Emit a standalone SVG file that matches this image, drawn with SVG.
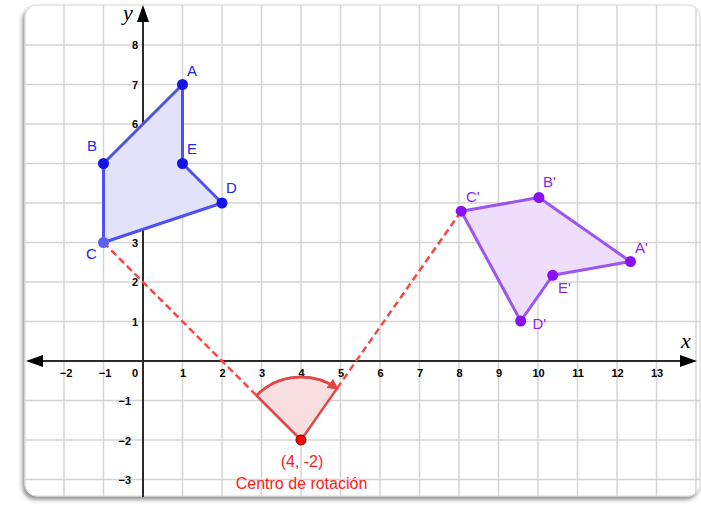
<svg xmlns="http://www.w3.org/2000/svg" width="701" height="521" viewBox="0 0 701 521">
<style>
.grid line{stroke:#d4d4d4;stroke-width:1.5}
.tick{font-family:"Liberation Sans",Arial,sans-serif;font-weight:bold;font-size:11px;fill:#000}
.ax{stroke:#2a2a2a;stroke-width:2}
.lbl{font-family:"Liberation Sans",Arial,sans-serif;font-size:15px}
.blue{fill:#2222ee}
.purple{fill:#8a1ff0}
.red{fill:#ff1a1a;font-size:16px}
.dash{stroke:#f54848;stroke-width:2.5;stroke-dasharray:7,4;fill:none}
</style>
<defs>
<filter id="sh" x="-5%" y="-5%" width="110%" height="110%">
<feDropShadow dx="-2" dy="3" stdDeviation="2" flood-color="#000" flood-opacity="0.45"/>
</filter>
<clipPath id="frame"><rect x="25" y="5" width="675" height="491" rx="12"/></clipPath>
<marker id="arcArrow" viewBox="0 0 10 10" refX="8" refY="5" markerWidth="4.5" markerHeight="4.5" orient="auto">
<path d="M0,0 L10,5 L0,10 z" fill="#e04848"/>
</marker>
</defs>
<rect x="25" y="5" width="675" height="491" rx="12" fill="#fff" stroke="#d8d8d8" filter="url(#sh)"/>
<g clip-path="url(#frame)">
<g class="grid">
<line x1="64" y1="0" x2="64" y2="521"/><line x1="103.5" y1="0" x2="103.5" y2="521"/>
<line x1="182.5" y1="0" x2="182.5" y2="521"/><line x1="222" y1="0" x2="222" y2="521"/>
<line x1="261.5" y1="0" x2="261.5" y2="521"/><line x1="301" y1="0" x2="301" y2="521"/>
<line x1="340.5" y1="0" x2="340.5" y2="521"/><line x1="380" y1="0" x2="380" y2="521"/>
<line x1="419.5" y1="0" x2="419.5" y2="521"/><line x1="459" y1="0" x2="459" y2="521"/>
<line x1="498.5" y1="0" x2="498.5" y2="521"/><line x1="538" y1="0" x2="538" y2="521"/>
<line x1="577.5" y1="0" x2="577.5" y2="521"/><line x1="617" y1="0" x2="617" y2="521"/>
<line x1="656.5" y1="0" x2="656.5" y2="521"/><line x1="696" y1="0" x2="696" y2="521"/>
<line x1="0" y1="479.5" x2="701" y2="479.5"/><line x1="0" y1="440" x2="701" y2="440"/>
<line x1="0" y1="400.5" x2="701" y2="400.5"/><line x1="0" y1="321.5" x2="701" y2="321.5"/>
<line x1="0" y1="282" x2="701" y2="282"/><line x1="0" y1="242.5" x2="701" y2="242.5"/>
<line x1="0" y1="203" x2="701" y2="203"/><line x1="0" y1="163.5" x2="701" y2="163.5"/>
<line x1="0" y1="124" x2="701" y2="124"/><line x1="0" y1="84.5" x2="701" y2="84.5"/>
<line x1="0" y1="45" x2="701" y2="45"/>
</g>
</g>
<g id="axes">
<line class="ax" x1="40" y1="361" x2="683" y2="361"/>
<line class="ax" x1="143" y1="20" x2="143" y2="497"/>
<path d="M697,361 L680,355 L680,367 z" fill="#000"/>
<path d="M26,361 L43,355 L43,367 z" fill="#000"/>
<path d="M143,5 L137,22 L149,22 z" fill="#000"/>
<text x="686" y="348" font-family="'Liberation Serif','DejaVu Serif',serif" font-style="italic" font-size="22" text-anchor="middle">x</text>
<text x="128" y="20" font-family="'Liberation Serif','DejaVu Serif',serif" font-style="italic" font-size="22" text-anchor="middle">y</text>
<g class="tick" text-anchor="middle">
<text x="66" y="377">−2</text><text x="105" y="377">−1</text><text x="135" y="377">0</text>
<text x="183" y="377">1</text><text x="222.5" y="377">2</text><text x="262" y="377">3</text>
<text x="301.5" y="377">4</text><text x="341" y="377">5</text><text x="380.5" y="377">6</text>
<text x="420" y="377">7</text><text x="459.5" y="377">8</text><text x="499" y="377">9</text>
<text x="538.5" y="377">10</text><text x="578" y="377">11</text><text x="617.5" y="377">12</text>
<text x="657" y="377">13</text>
</g>
<g class="tick" text-anchor="end">
<text x="138" y="49">8</text><text x="138" y="88.5">7</text><text x="138" y="128">6</text>
<text x="138" y="246.5">3</text><text x="138" y="286">2</text><text x="138" y="325.5">1</text>
<text x="131" y="405">−1</text><text x="131" y="444.5">−2</text><text x="131" y="484">−3</text>
</g>
</g>
<g id="connectors">
<line class="dash" x1="103.5" y1="242.5" x2="256.5" y2="395.5"/>
<line class="dash" x1="337" y1="388.4" x2="461.2" y2="211.2"/>
</g>
<g id="rotation">
<path d="M301,440 L256.5,395.5 A63,63 0 0 1 337.1,388.4 Z" fill="#f9dfe0" stroke="#e04848" stroke-width="2.5" stroke-linejoin="round"/>
<path d="M256.5,395.5 A63,63 0 0 1 337.1,388.4" fill="none" stroke="#e04848" stroke-width="2.5" marker-end="url(#arcArrow)"/>
<circle cx="301" cy="440" r="5" fill="#ff0000" stroke="#700" stroke-width="1"/>
<text class="lbl red" x="302" y="467" text-anchor="middle" font-size="16.5">(4, -2)</text>
<text class="lbl red" x="301.5" y="489" text-anchor="middle">Centro de rotación</text>
</g>
<g id="original">
<polygon points="182.5,84.5 103.5,163.5 103.5,242.5 222,203 182.5,163.5" fill="#e2e3fa" stroke="#5050f0" stroke-width="3" stroke-linejoin="round"/>
<g fill="#1414e6">
<circle cx="182.5" cy="84.5" r="5.5"/><circle cx="103.5" cy="163.5" r="5.5"/>
<circle cx="103.5" cy="242.5" r="5.5" fill="#6060f0"/><circle cx="222" cy="203" r="5.5"/>
<circle cx="182.5" cy="163.5" r="5.5"/>
</g>
<g class="lbl blue">
<text x="187" y="76">A</text><text x="87" y="151">B</text><text x="86" y="259">C</text>
<text x="226" y="193">D</text><text x="187" y="154">E</text>
</g>
</g>
<g id="image">
<polygon points="630.5,261.6 539,197.5 461.2,211.2 520.7,321 552.7,275.3" fill="#efdefb" stroke="#9b55f0" stroke-width="3" stroke-linejoin="round"/>
<g fill="#8a0ff2">
<circle cx="630.5" cy="261.6" r="5.5"/><circle cx="539" cy="197.5" r="5.5"/>
<circle cx="461.2" cy="211.2" r="5.5"/><circle cx="520.7" cy="321" r="5.5"/>
<circle cx="552.7" cy="275.3" r="5.5"/>
</g>
<g class="lbl purple">
<text x="635" y="252.5">A'</text><text x="543" y="187">B'</text><text x="466" y="201.5">C'</text>
<text x="532.5" y="329">D'</text><text x="558" y="292.5">E'</text>
</g>
</g>
</svg>
